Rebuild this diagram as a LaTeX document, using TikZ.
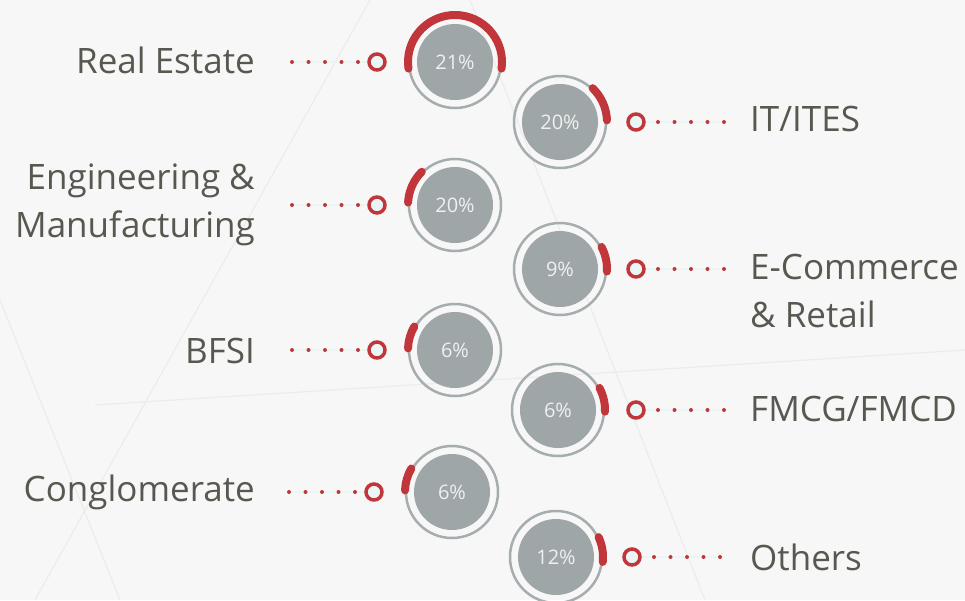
\documentclass[tikz,border=0pt]{standalone}
\usepackage{fontspec}
\setmainfont{Open Sans}
\definecolor{bgcol}{RGB}{247,247,247}
\definecolor{bgline}{RGB}{236,236,236}
\definecolor{txtgray}{RGB}{88,88,80}
\definecolor{dialgray}{RGB}{159,166,167}
\definecolor{ringgray}{RGB}{166,173,174}
\definecolor{arcred}{RGB}{193,54,59}
\definecolor{markfill}{RGB}{234,246,246}
\definecolor{pcttext}{RGB}{238,241,241}
\tikzset{
  pct/.style={circle,fill=dialgray,minimum size=76pt,inner sep=0pt,text=pcttext,font=\fontsize{20}{20}\selectfont},
  ring/.style={draw=ringgray,line width=2.5pt},
  redarc/.style={draw=arcred,line width=8pt,line cap=round},
  marker/.style={circle,draw=arcred,fill=markfill,line width=3.5pt,minimum size=16pt,inner sep=0pt},
  dots/.style={draw=arcred,line width=4pt,line cap=round,dash pattern=on 0pt off 16.5pt},
  faint/.style={draw=markfill,line width=1.5pt},
  lbl/.style={text=txtgray,font=\fontsize{35}{48}\selectfont,inner sep=0pt},
}
\begin{document}
\begin{tikzpicture}[x=1pt,y=1pt]
  \fill[bgcol] (0,0) rectangle (965,-600);
  \useasboundingbox (0,0) rectangle (965,-600);
  \clip (0,0) rectangle (965,-600);
  % faint background lines
  \draw[bgline,line width=1.2pt] (370,0) -- (35,-600) (470,0) -- (705,-600)
    (95,-405) -- (965,-350) (0,-300) -- (120,-600);
  % dials
  \foreach \name/\x/\y/\val/\a/\b in {c1/455/62/21/-8/188, c2/560/122/20/2/46,
      c3/455/205/20/135/177, c4/560/269/9/-3/28, c5/455/350/6/150/178,
      c6/558/410/6/-2/28, c7/452/492/6/150/178, c8/556/557/12/-6/25}{
    \node[pct] (\name) at (\x,-\y) {\val\%};
    \draw[ring] (\name.center) circle (46);
    \draw[redarc] (\name.center) ++(\a:47) arc (\a:\b:47);
  }
  % left markers
  \foreach \n/\x/\y in {1/377/62, 3/377/205, 5/377/350, 7/374/492}{
    \coordinate (d\n) at (\x-85,-\y);
    \node[marker] (m\n) at (\x,-\y) {};
    \draw[faint] (d\n) -- (m\n);
    \draw[dots] (d\n) -- (m\n);
  }
  % right markers
  \foreach \n/\x/\y in {2/636/122, 4/636/269, 6/636/410, 8/632/557}{
    \coordinate (d\n) at (\x+88,-\y);
    \node[marker] (m\n) at (\x,-\y) {};
    \draw[faint] (d\n) -- (m\n);
    \draw[dots] (d\n) -- (m\n);
  }
  % labels
  \node[lbl,anchor=base east] (l1) at (255,-73) {Real Estate};
  \node[lbl,anchor=base east,align=right] (l3) at (255,-237) {Engineering \&\\Manufacturing};
  \node[lbl,anchor=base east] (l5) at (255,-363) {BFSI};
  \node[lbl,anchor=base east] (l7) at (255,-501) {Conglomerate};
  \node[lbl,anchor=base west] (l2) at (750,-131) {IT/ITES};
  \node[lbl,anchor=base west,align=left] (l4) at (750,-327) {E-Commerce\\\& Retail};
  \node[lbl,anchor=base west] (l6) at (750,-421) {FMCG/FMCD};
  \node[lbl,anchor=base west] (l8) at (750,-570) {Others};
\end{tikzpicture}
\end{document}
